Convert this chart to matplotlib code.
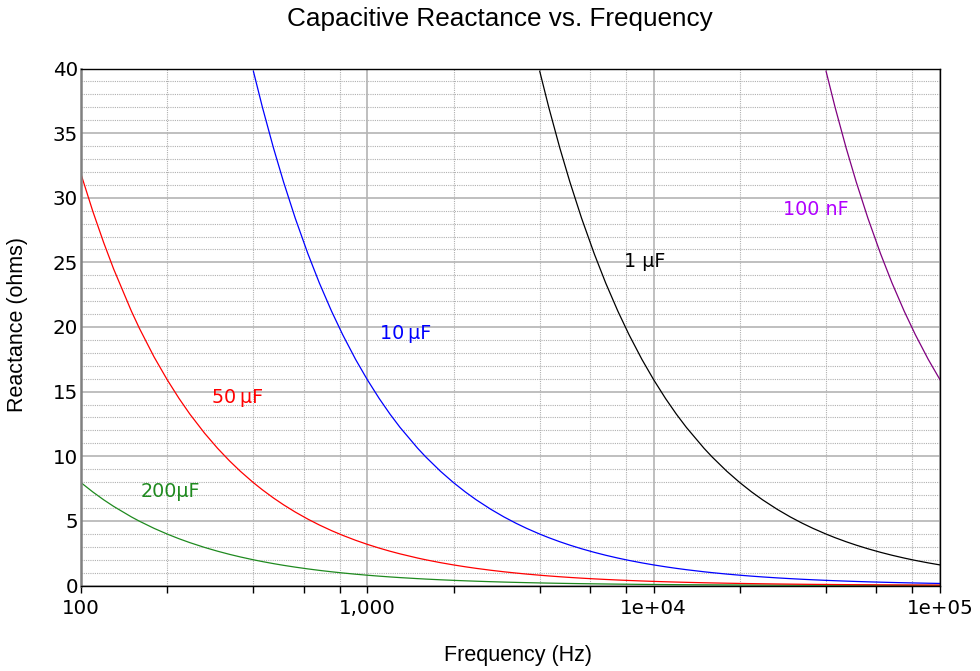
import matplotlib
matplotlib.use("Agg")
import matplotlib.pyplot as plt
from matplotlib.ticker import FixedLocator, FixedFormatter, NullFormatter

# ---------------- data ----------------
freq = [100, 110, 120, 130, 150, 160, 180, 200, 220, 240, 270, 300, 330, 360, 400, 430, 470, 510, 560, 620, 680, 750, 820, 910,
        1000, 1100, 1200, 1300, 1500, 1600, 1800, 2000, 2200, 2400, 2700, 3000, 3300, 3600, 4000, 4300, 4700, 5100, 5600, 6200, 6800, 7500, 8200, 9100,
        10000, 11000, 12000, 13000, 15000, 16000, 18000, 20000, 22000, 24000, 27000, 30000, 33000, 36000, 40000, 43000, 47000, 51000, 56000, 62000, 68000, 75000, 82000, 91000,
        100000]

x_200uF = [7.958, 7.234, 6.631, 6.121, 5.305, 4.974, 4.421, 3.979, 3.617, 3.316, 2.947, 2.653, 2.411, 2.210, 1.989, 1.851, 1.693, 1.560, 1.421, 1.284, 1.170, 1.061, 0.970, 0.874,
           0.796, 0.723, 0.663, 0.612, 0.531, 0.497, 0.442, 0.398, 0.362, 0.332, 0.295, 0.265, 0.241, 0.221, 0.199, 0.185, 0.169, 0.156, 0.142, 0.128, 0.117, 0.106, 0.097, 0.087,
           0.080, 0.072, 0.066, 0.061, 0.053, 0.050, 0.044, 0.040, 0.036, 0.033, 0.029, 0.027, 0.024, 0.022, 0.020, 0.019, 0.017, 0.016, 0.014, 0.013, 0.012, 0.011, 0.010, 0.009,
           0.008]

x_50uF = [31.83, 28.94, 26.53, 24.49, 21.22, 19.89, 17.68, 15.92, 14.47, 13.26, 11.79, 10.61, 9.646, 8.842, 7.958, 7.403, 6.773, 6.241, 5.684, 5.134, 4.681, 4.244, 3.882, 3.498,
          3.183, 2.894, 2.653, 2.449, 2.122, 1.989, 1.768, 1.592, 1.447, 1.326, 1.179, 1.061, 0.965, 0.884, 0.796, 0.740, 0.677, 0.624, 0.568, 0.513, 0.468, 0.424, 0.388, 0.350,
          0.318, 0.289, 0.265, 0.245, 0.212, 0.199, 0.177, 0.159, 0.145, 0.133, 0.118, 0.106, 0.096, 0.088, 0.080, 0.074, 0.068, 0.062, 0.057, 0.051, 0.047, 0.042, 0.039, 0.035,
          0.032]

# starts at 400 Hz
x_10uF = [39.79, 37.01, 33.86, 31.21, 28.42, 25.67, 23.40, 21.22, 19.41, 17.49,
          15.92, 14.47, 13.26, 12.24, 10.61, 9.947, 8.842, 7.958, 7.234, 6.631, 5.895, 5.305, 4.823, 4.421, 3.979, 3.701, 3.386, 3.121, 2.842, 2.567, 2.340, 2.122, 1.941, 1.749,
          1.592, 1.447, 1.326, 1.224, 1.061, 0.995, 0.884, 0.796, 0.723, 0.663, 0.589, 0.531, 0.482, 0.442, 0.398, 0.370, 0.339, 0.312, 0.284, 0.257, 0.234, 0.212, 0.194, 0.175,
          0.159]

# starts at 4 kHz
x_1uF = [39.79, 37.01, 33.86, 31.21, 28.42, 25.67, 23.40, 21.22, 19.41, 17.49,
         15.92, 14.47, 13.26, 12.24, 10.61, 9.947, 8.842, 7.958, 7.234, 6.631, 5.895, 5.305, 4.823, 4.421, 3.979, 3.701, 3.386, 3.121, 2.842, 2.567, 2.340, 2.122, 1.941, 1.749,
         1.592]

# starts at 40 kHz
x_100nF = [39.79, 37.01, 33.86, 31.21, 28.42, 25.67, 23.40, 21.22, 19.41, 17.49,
           15.92]

series_names = ["200\u00b5F", "50\u2009\u00b5F", "10\u2009\u00b5F", "1 \u00b5F", "100 nF"]
x_ticks = [100, 1000, 10000, 100000]
x_tick_labels = ["100", "1,000", "1e+04", "1e+05"]
y_ticks = [0, 5, 10, 15, 20, 25, 30, 35, 40]

# ---------------- figure ----------------
fig = plt.figure(figsize=(9.8, 6.71), dpi=100)
ax = fig.add_axes([81 / 980, 1 - 585.5 / 671, (940 - 81) / 980, (585.5 - 68.5) / 671])

ax.set_xscale("log")
ax.set_xlim(100, 100000)
ax.set_ylim(0, 40)

line_w = 0.9
ax.plot(freq, x_200uF, color="#1f8a1f", lw=line_w)
ax.plot(freq, x_50uF, color="#ff0000", lw=line_w)
ax.plot(freq[freq.index(400):], x_10uF, color="#0000ff", lw=line_w)
ax.plot(freq[freq.index(4000):], x_1uF, color="#000000", lw=line_w)
ax.plot(freq[freq.index(40000):], x_100nF, color="#800080", lw=line_w)

label_font = dict(family="DejaVu Sans", fontsize=13.8, ha="center", va="center")
ax.text(205, 7.25, series_names[0], color="#1f8a1f", **label_font)
ax.text(351, 14.53, series_names[1], color="#ff0000", **label_font)
ax.text(1365, 19.5, series_names[2], color="#0000ff", **label_font)
ax.text(9330, 25.08, series_names[3], color="#000000", **label_font)
ax.text(36900, 29.1, series_names[4], color="#b000ff", **label_font)

# ticks
ax.xaxis.set_major_locator(FixedLocator(x_ticks))
ax.xaxis.set_major_formatter(FixedFormatter(x_tick_labels))
minors = [m * d for d in (100, 1000, 10000) for m in (2, 4, 6, 8)]
ax.xaxis.set_minor_locator(FixedLocator(minors))
ax.xaxis.set_minor_formatter(NullFormatter())
ax.yaxis.set_major_locator(FixedLocator(y_ticks))
ax.yaxis.set_minor_locator(FixedLocator(list(range(0, 41))))

ax.tick_params(axis="x", which="both", direction="out", length=5, width=1, color="black", pad=5,
               labelsize=14.3, bottom=True, top=False)
ax.tick_params(axis="y", which="both", length=0, pad=2, labelsize=14.3)
for lab in ax.get_xticklabels() + ax.get_yticklabels():
    lab.set_family("DejaVu Sans")

# grid
ax.grid(True, which="major", axis="both", color="#b4b4b4", lw=1.2, ls="-", zorder=0)
ax.grid(True, which="minor", axis="both", color="#b0b0b0", lw=0.8, ls=(0, (1.0, 1.0)), zorder=0)
ax.set_axisbelow(True)

# spines
ax.spines["left"].set_color("#808080")
ax.spines["left"].set_linewidth(1.8)
for s in ("top", "right", "bottom"):
    ax.spines[s].set_color("black")
    ax.spines[s].set_linewidth(1.0)

# titles
fig.text(500 / 980, 1 - 19 / 671, "Capacitive Reactance vs. Frequency", family="Liberation Sans",
         fontsize=18.8, ha="center", va="center")
fig.text(518 / 980, 1 - 655 / 671, "Frequency (Hz)", family="Liberation Sans", fontsize=15.5,
         ha="center", va="center")
fig.text(17 / 980, 1 - 325 / 671, "Reactance (ohms)", family="Liberation Sans", fontsize=15.5,
         ha="center", va="center", rotation=90)

fig.savefig("out.png", dpi=100)
